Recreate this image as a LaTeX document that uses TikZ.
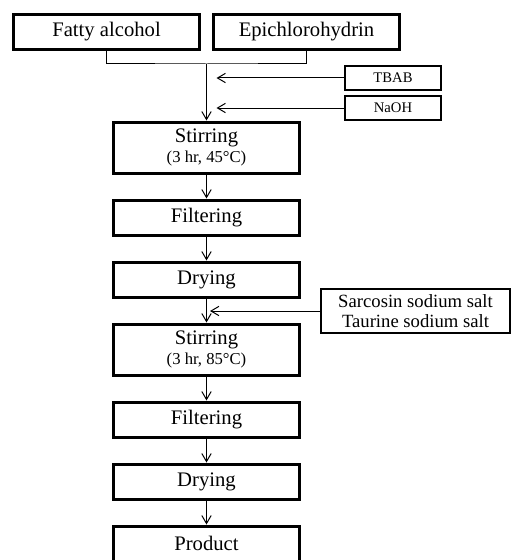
\documentclass[tikz,border=0pt]{standalone}
\usepackage{fontspec}
\setmainfont{Liberation Serif}
\usetikzlibrary{positioning, arrows.meta, calc}

\begin{document}
\begin{tikzpicture}[
  x=0.75pt, y=-0.75pt,
  node distance=18pt and 8.25pt,
  align=center,
  % Estilos de cajas
  stepbox/.style={draw, rectangle, line width=2.25pt, minimum width=139.5pt, minimum height=26.25pt, inner sep=0pt, font=\fontsize{15.5}{16}\selectfont},
  tallbox/.style={stepbox, minimum height=38.25pt},
  addbox/.style={draw, rectangle, line width=1.5pt, minimum width=72pt, minimum height=18pt, inner sep=0pt, font=\fontsize{11}{12}\selectfont},
  % Estilos de flechas
  line/.style={draw, line width=0.75pt},
  arrow/.style={line, -{Straight Barb[length=6pt, width=7pt]}}
]

  \useasboundingbox (0,0) rectangle (512,560);

  % ==========================================
  % STARTING MATERIALS
  % ==========================================
  \node[stepbox] (in1) at (106.5,32) {Fatty alcohol};
  \node[stepbox, right=of in1] (in2) {Epichlorohydrin};
  \coordinate (join) at ($(in1.south)!0.5!(in2.south) + (0,13)$);
  \draw[line] (in1.south) |- (join) -| (in2.south);

  % --- additives ---
  \node[addbox] (add1) at (393,78) {TBAB};
  \node[addbox] (add2) at (393,108) {NaOH};

  % ==========================================
  % FIRST STAGE
  % ==========================================
  \node[tallbox] (stir1) at (206.5,147.5) {Stirring\\[-1pt]{\fontsize{12.5}{13}\selectfont (3 hr, 45°C)}};
  \node[stepbox, below=of stir1] (filt1) {Filtering};
  \node[stepbox, below=of filt1] (dry1) {Drying};

  \draw[arrow] (join) -- (stir1.north);
  \draw[arrow] (add1.west) -- ($(join |- add1.west) + (10,0)$);
  \draw[arrow] (add2.west) -- ($(join |- add2.west) + (10,0)$);
  \draw[arrow] (stir1) -- (filt1);
  \draw[arrow] (filt1) -- (dry1);

  % ==========================================
  % SECOND STAGE
  % ==========================================
  \node[addbox, minimum width=141.75pt, minimum height=33pt, font=\fontsize{14}{15}\selectfont] (add3) at (415.5,311) {Sarcosin sodium salt\\Taurine sodium salt};
  \node[tallbox, below=of dry1] (stir2) {Stirring\\[-1pt]{\fontsize{12.5}{13}\selectfont (3 hr, 85°C)}};
  \node[stepbox, below=of stir2] (filt2) {Filtering};
  \node[stepbox, below=of filt2] (dry2) {Drying};
  \node[stepbox, below=of dry2] (prod) {Product};

  \draw[arrow] (dry1) -- (stir2);
  \draw[arrow] (add3.west) -- ($(dry1.south |- add3.west) + (3.5,0)$);
  \draw[arrow] (stir2) -- (filt2);
  \draw[arrow] (filt2) -- (dry2);
  \draw[arrow] (dry2) -- (prod);

\end{tikzpicture}
\end{document}
